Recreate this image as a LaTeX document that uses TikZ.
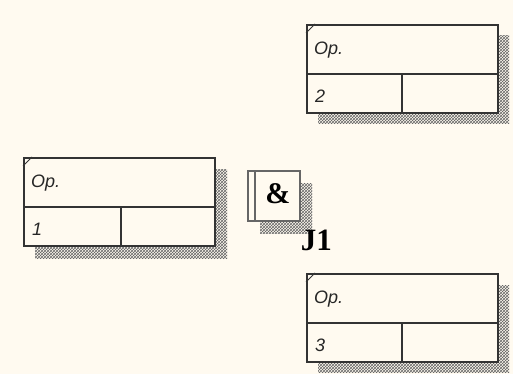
\documentclass[tikz,border=0pt]{standalone}
\usepackage{fontspec}
\setmainfont{Liberation Serif}
\setsansfont{Liberation Sans}
\usetikzlibrary{patterns,calc,positioning}
\definecolor{paper}{HTML}{FFFAF0}

\tikzset{
  uobbox/.style={draw=black!80, line width=1.7pt, fill=paper, minimum width=191pt, minimum height=88pt, inner sep=0pt, anchor=north west},
  uobline/.style={draw=black!80, line width=1.7pt},
  uobshadow/.style={pattern=crosshatch, pattern color=black!60},
  uobtext/.style={font=\fontsize{18}{18}\selectfont\sffamily\itshape, text=black!85, anchor=west, inner sep=0pt},
  jbox/.style={draw=black!60, line width=1.7pt, fill=paper, minimum width=52pt, minimum height=50pt, inner sep=0pt, anchor=north west},
}

\begin{document}
\begin{tikzpicture}[x=1pt, y=-1pt]
\useasboundingbox[fill=paper] (0,0) rectangle (513,374);

% unit of behaviour 1
\fill[uobshadow] (35,169) rectangle (227,258);
\node[uobbox] (uob1) at (23,157) {};
\draw[uobline] ($(uob1.north west)+(0,50)$) coordinate (uob1d) -- (uob1d -| uob1.east);
\draw[uobline] ($(uob1.north west)+(98,50)$) coordinate (uob1v) -- (uob1v |- uob1.south);
\draw[uobline, line width=0.9pt] ($(uob1.north west)+(0,9)$) coordinate (uob1c) -- ($(uob1.north west)+(9,0)$);
\node[uobtext] (op1) at ($(uob1.north west)+(8,26)$) {Op.};
\node[uobtext] (num1) at ($(uob1.north west)+(9,72)$) {1};

% unit of behaviour 2
\fill[uobshadow] (318,36) rectangle (509,124);
\node[uobbox] (uob2) at (306,24) {};
\draw[uobline] ($(uob2.north west)+(0,50)$) coordinate (uob2d) -- (uob2d -| uob2.east);
\draw[uobline] ($(uob2.north west)+(96,50)$) coordinate (uob2v) -- (uob2v |- uob2.south);
\draw[uobline, line width=0.9pt] ($(uob2.north west)+(0,9)$) coordinate (uob2c) -- ($(uob2.north west)+(9,0)$);
\node[uobtext] (op2) at ($(uob2.north west)+(8,26)$) {Op.};
\node[uobtext] (num2) at ($(uob2.north west)+(9,72)$) {2};

% unit of behaviour 3
\fill[uobshadow] (318,285) rectangle (509,372);
\node[uobbox] (uob3) at (306,273) {};
\draw[uobline] ($(uob3.north west)+(0,50)$) coordinate (uob3d) -- (uob3d -| uob3.east);
\draw[uobline] ($(uob3.north west)+(96,50)$) coordinate (uob3v) -- (uob3v |- uob3.south);
\draw[uobline, line width=0.9pt] ($(uob3.north west)+(0,9)$) coordinate (uob3c) -- ($(uob3.north west)+(9,0)$);
\node[uobtext] (op3) at ($(uob3.north west)+(8,26)$) {Op.};
\node[uobtext] (num3) at ($(uob3.north west)+(9,72)$) {3};

% junction
\fill[uobshadow] (260,183) rectangle (312,233);
\node[jbox] (j1) at (247,170) {};
\draw[draw=black!60, line width=1.7pt] ($(j1.north west)+(8,0)$) coordinate (j1v) -- (j1v |- j1.south);
\node[font=\fontsize{30}{30}\selectfont\bfseries] (amp) at ($(j1.center)+(4,-2)$) {\&};
\node[font=\fontsize{31}{31}\selectfont\bfseries, below right=8pt and 0pt of j1.south east, inner sep=0pt] (j1lab) {J1};
\end{tikzpicture}
\end{document}
